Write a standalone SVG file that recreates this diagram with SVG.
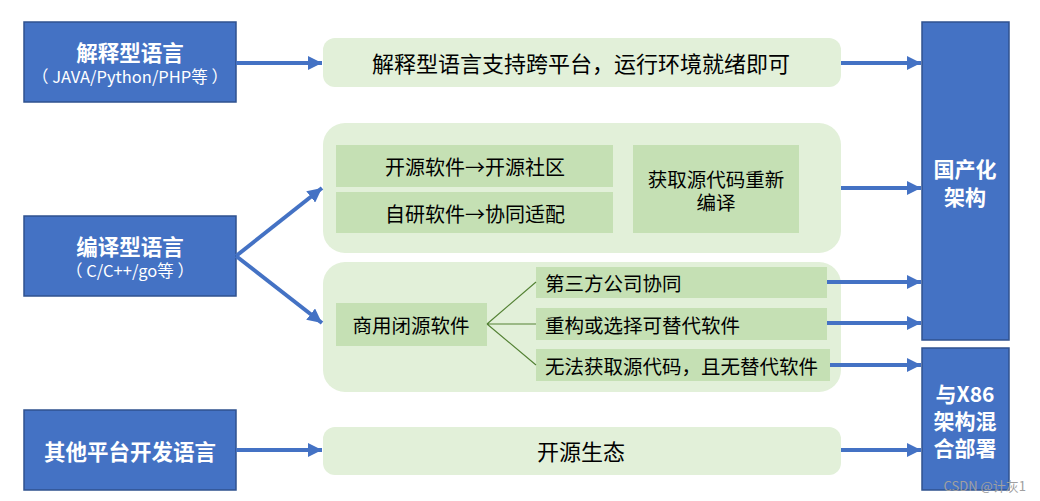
<svg xmlns="http://www.w3.org/2000/svg" width="1040" height="501" viewBox="0 0 1040 501">
<defs>
<style>
.blue{fill:#4472C4;stroke:#2F528F;stroke-width:1.5}
.pale{fill:#E2F0D9}
.mid{fill:#C5E0B4}
.wt{font-family:"Noto Sans CJK SC","Microsoft YaHei",sans-serif;fill:#fff;font-weight:bold;text-anchor:middle;dominant-baseline:central}
.ws{font-family:"Noto Sans CJK SC",sans-serif;fill:#fff;font-size:16.5px;text-anchor:middle;dominant-baseline:central}
.bt{font-family:"Noto Sans CJK SC","Microsoft YaHei",sans-serif;fill:#000;text-anchor:middle;dominant-baseline:central}
.st{text-anchor:start}
.arr{stroke:#4472C4;stroke-width:4;fill:none;marker-end:url(#ah)}
.br{stroke:#548235;stroke-width:1.2;fill:none}
</style>
<marker id="ah" viewBox="0 0 10 10" refX="10" refY="5" markerWidth="3.6" markerHeight="3.6" orient="auto" markerUnits="strokeWidth">
<path d="M0,0 L10,5 L0,10 z" fill="#4472C4"/>
</marker>
</defs>
<rect width="1040" height="501" fill="#fff"/>

<g id="interp">
<rect class="blue" x="24" y="22" width="212" height="80"/>
<text class="wt" x="130" y="51" font-size="21.5">解释型语言</text>
<text class="ws" x="130" y="76">（ JAVA/Python/PHP等 ）</text>
</g>
<g id="compiled">
<rect class="blue" x="24" y="216" width="212" height="80"/>
<text class="wt" x="130" y="245" font-size="21.5">编译型语言</text>
<text class="ws" x="130" y="270">（ C/C++/go等 ）</text>
</g>
<g id="other">
<rect class="blue" x="24" y="410" width="212" height="80"/>
<text class="wt" x="130" y="450" font-size="21.5">其他平台开发语言</text>
</g>

<g id="cross-platform">
<rect class="pale" x="323" y="38" width="518" height="49" rx="12"/>
<text class="bt" x="581" y="62" font-size="22">解释型语言支持跨平台，运行环境就绪即可</text>
</g>

<g id="open-group">
<rect class="pale" x="323" y="123" width="518" height="130" rx="22"/>
<g id="open-source">
<rect class="mid" x="336" y="145" width="277" height="42"/>
<text class="bt" x="475" y="166" font-size="20">开源软件→开源社区</text>
</g>
<g id="self-dev">
<rect class="mid" x="336" y="192" width="277" height="41"/>
<text class="bt" x="475" y="213" font-size="20">自研软件→协同适配</text>
</g>
<g id="recompile">
<rect class="mid" x="633" y="145" width="166" height="88"/>
<text class="bt" x="716" y="178" font-size="19.5">获取源代码重新</text>
<text class="bt" x="716" y="201" font-size="19.5">编译</text>
</g>
</g>

<g id="closed-group">
<rect class="pale" x="323" y="262" width="518" height="130" rx="22"/>
<g id="commercial">
<rect class="mid" x="336" y="303" width="151" height="43"/>
<text class="bt" x="411" y="324" font-size="19.5">商用闭源软件</text>
</g>
<g id="third-party">
<rect class="mid" x="536" y="267" width="291" height="31"/>
<text class="bt st" x="545" y="282" font-size="19.5">第三方公司协同</text>
</g>
<g id="refactor">
<rect class="mid" x="536" y="308" width="291" height="32"/>
<text class="bt st" x="545" y="324" font-size="19.5">重构或选择可替代软件</text>
</g>
<g id="no-source">
<rect class="mid" x="536" y="349" width="294" height="32"/>
<text class="bt st" x="545" y="365" font-size="19.5">无法获取源代码，且无替代软件</text>
</g>
</g>

<g id="eco">
<rect class="pale" x="323" y="427" width="518" height="48" rx="12"/>
<text class="bt" x="581" y="450" font-size="22">开源生态</text>
</g>

<g id="domestic">
<rect class="blue" x="922" y="22" width="87" height="318"/>
<text class="wt" x="965" y="168" font-size="21">国产化</text>
<text class="wt" x="965" y="196" font-size="21">架构</text>
</g>
<g id="hybrid">
<rect class="blue" x="922" y="348" width="87" height="142"/>
<text class="wt" x="965" y="393" font-size="21">与X86</text>
<text class="wt" x="965" y="420" font-size="21">架构混</text>
<text class="wt" x="965" y="447" font-size="21">合部署</text>
</g>

<g id="connectors">
<line class="arr" x1="236" y1="63" x2="322" y2="63"/>
<line class="arr" x1="236" y1="256" x2="322" y2="188"/>
<line class="arr" x1="236" y1="256" x2="322" y2="323"/>
<line class="arr" x1="236" y1="450" x2="322" y2="450"/>
<line class="arr" x1="841" y1="63" x2="921" y2="63"/>
<line class="arr" x1="841" y1="188" x2="921" y2="188"/>
<line class="arr" x1="827" y1="282" x2="921" y2="282"/>
<line class="arr" x1="827" y1="323" x2="921" y2="323"/>
<line class="arr" x1="830" y1="365" x2="921" y2="365"/>
<line class="arr" x1="841" y1="450" x2="921" y2="450"/>
<path class="br" d="M487,324 L536,282 M487,324 L536,324 M487,324 L536,365"/>
</g>

<text x="1026" y="485" font-family="Noto Sans CJK SC,sans-serif" font-size="13" fill="#a0a0a0" text-anchor="end" dominant-baseline="central">CSDN @计灰1</text>
</svg>
